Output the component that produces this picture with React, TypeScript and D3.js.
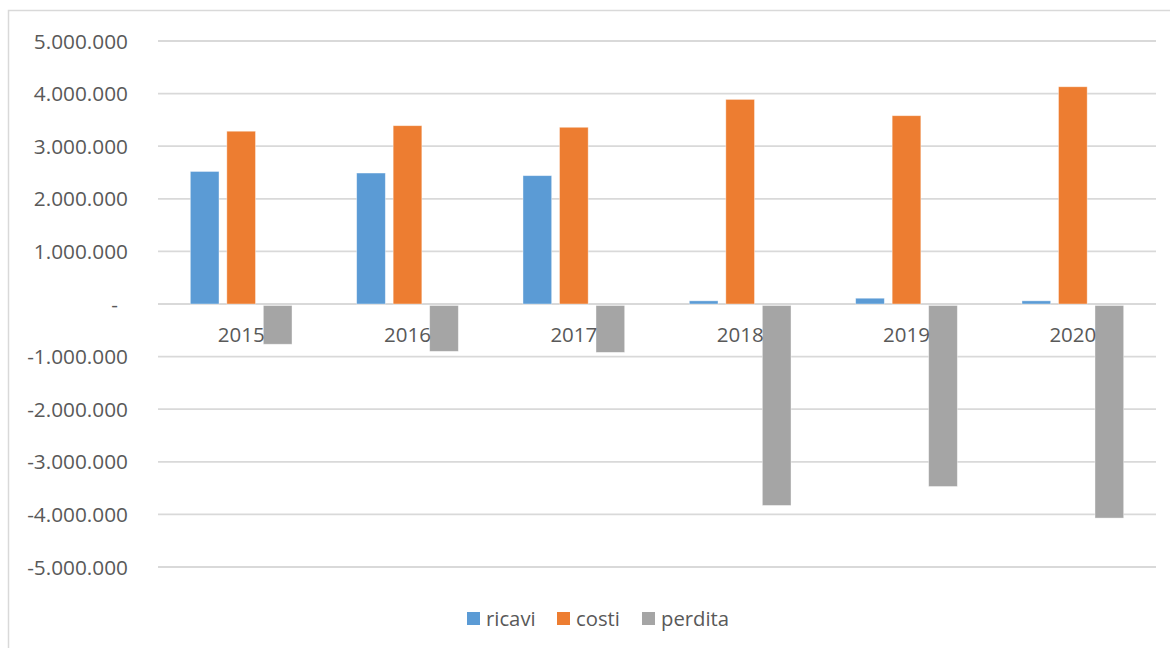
import React from 'react';
import * as d3 from 'd3';

// data
const years = ['2015', '2016', '2017', '2018', '2019', '2020'];
const ricavi = [2520000, 2490000, 2440000, 60000, 110000, 60000];
const costi = [3285000, 3390000, 3360000, 3890000, 3580000, 4130000];
const perdita = [-765000, -900000, -920000, -3830000, -3470000, -4070000];
const tickValues = [5000000, 4000000, 3000000, 2000000, 1000000, 0, -1000000, -2000000, -3000000, -4000000, -5000000];

const seriesNames = ['ricavi', 'costi', 'perdita'];
const seriesColors = ['#5B9BD5', '#ED7D31', '#A5A5A5'];
const seriesValues = [ricavi, costi, perdita];

const W = 1170;
const H = 648;
const FONT = '"Open Sans", "DejaVu Sans", sans-serif';
const TEXT = '#595959';
const GRID = '#d9d9d9';

const itLocale = d3.formatLocale({ decimal: ',', thousands: '.', grouping: [3], currency: ['€', ''], minus: '-' });
const fmt = itLocale.format(',.0f');

const App = () => {
  const margin = { top: 41, right: 14, bottom: 81, left: 158 };

  const x0 = d3.scaleBand()
    .domain(years)
    .range([margin.left, W - margin.right])
    .paddingInner(0)
    .paddingOuter(0);

  const groupW = 101.7;
  const x1 = d3.scaleBand()
    .domain(seriesNames)
    .range([-groupW / 2, groupW / 2])
    .paddingInner(0.214)
    .paddingOuter(0);

  const y = d3.scaleLinear()
    .domain([-5000000, 5000000])
    .range([H - margin.bottom, margin.top]);

  const legendItems = [
    { name: 'ricavi', color: seriesColors[0], x: 467 },
    { name: 'costi', color: seriesColors[1], x: 557 },
    { name: 'perdita', color: seriesColors[2], x: 642 },
  ];

  return (
    <svg width={W} height={H} style={{ position: 'absolute', left: 0, top: 0, background: '#fff' }} fontFamily={FONT}>
      <rect x={8.5} y={10.5} width={W + 10} height={H + 10} fill="#fff" stroke={GRID} strokeWidth={1.5} />

      {/* gridlines and y labels */}
      {tickValues.map(t => (
        <g key={t}>
          <line x1={margin.left} x2={W - margin.right} y1={y(t)} y2={y(t)} stroke={GRID} strokeWidth={1.8} />
          <text
            x={t === 0 ? 118 : 128}
            y={y(t) + 7.5}
            textAnchor="end"
            fontSize={20.8}
            fill={TEXT}
          >
            {t === 0 ? '-' : fmt(t)}
          </text>
        </g>
      ))}

      {/* bars */}
      {seriesValues.map((vals, si) => (
        <g key={seriesNames[si]}>
          {vals.map((v, i) => {
            const bx = (x0(years[i]) as number) + x0.bandwidth() / 2 + (x1(seriesNames[si]) as number);
            const y0 = y(0);
            const yv = y(v);
            return (
              <rect
                key={years[i]}
                x={bx}
                y={Math.min(y0, yv) + (v < 0 ? 1.5 : 0)}
                width={x1.bandwidth()}
                height={Math.abs(yv - y0) - (v < 0 ? 1.5 : 0)}
                fill={seriesColors[si]}
                stroke="rgba(255,255,255,0.5)"
                strokeWidth={0.8}
              />
            );
          })}
        </g>
      ))}

      {/* category labels */}
      {years.map(yr => (
        <text
          key={yr}
          x={(x0(yr) as number) + x0.bandwidth() / 2}
          y={342}
          textAnchor="middle"
          fontSize={20.5}
          fill={TEXT}
        >
          {yr}
        </text>
      ))}

      {/* legend */}
      {legendItems.map(it => (
        <g key={it.name}>
          <rect x={it.x} y={612} width={13} height={13} fill={it.color} />
          <text x={it.x + 19} y={626} fontSize={20.3} fill={TEXT}>{it.name}</text>
        </g>
      ))}
    </svg>
  );
};

export default App;
